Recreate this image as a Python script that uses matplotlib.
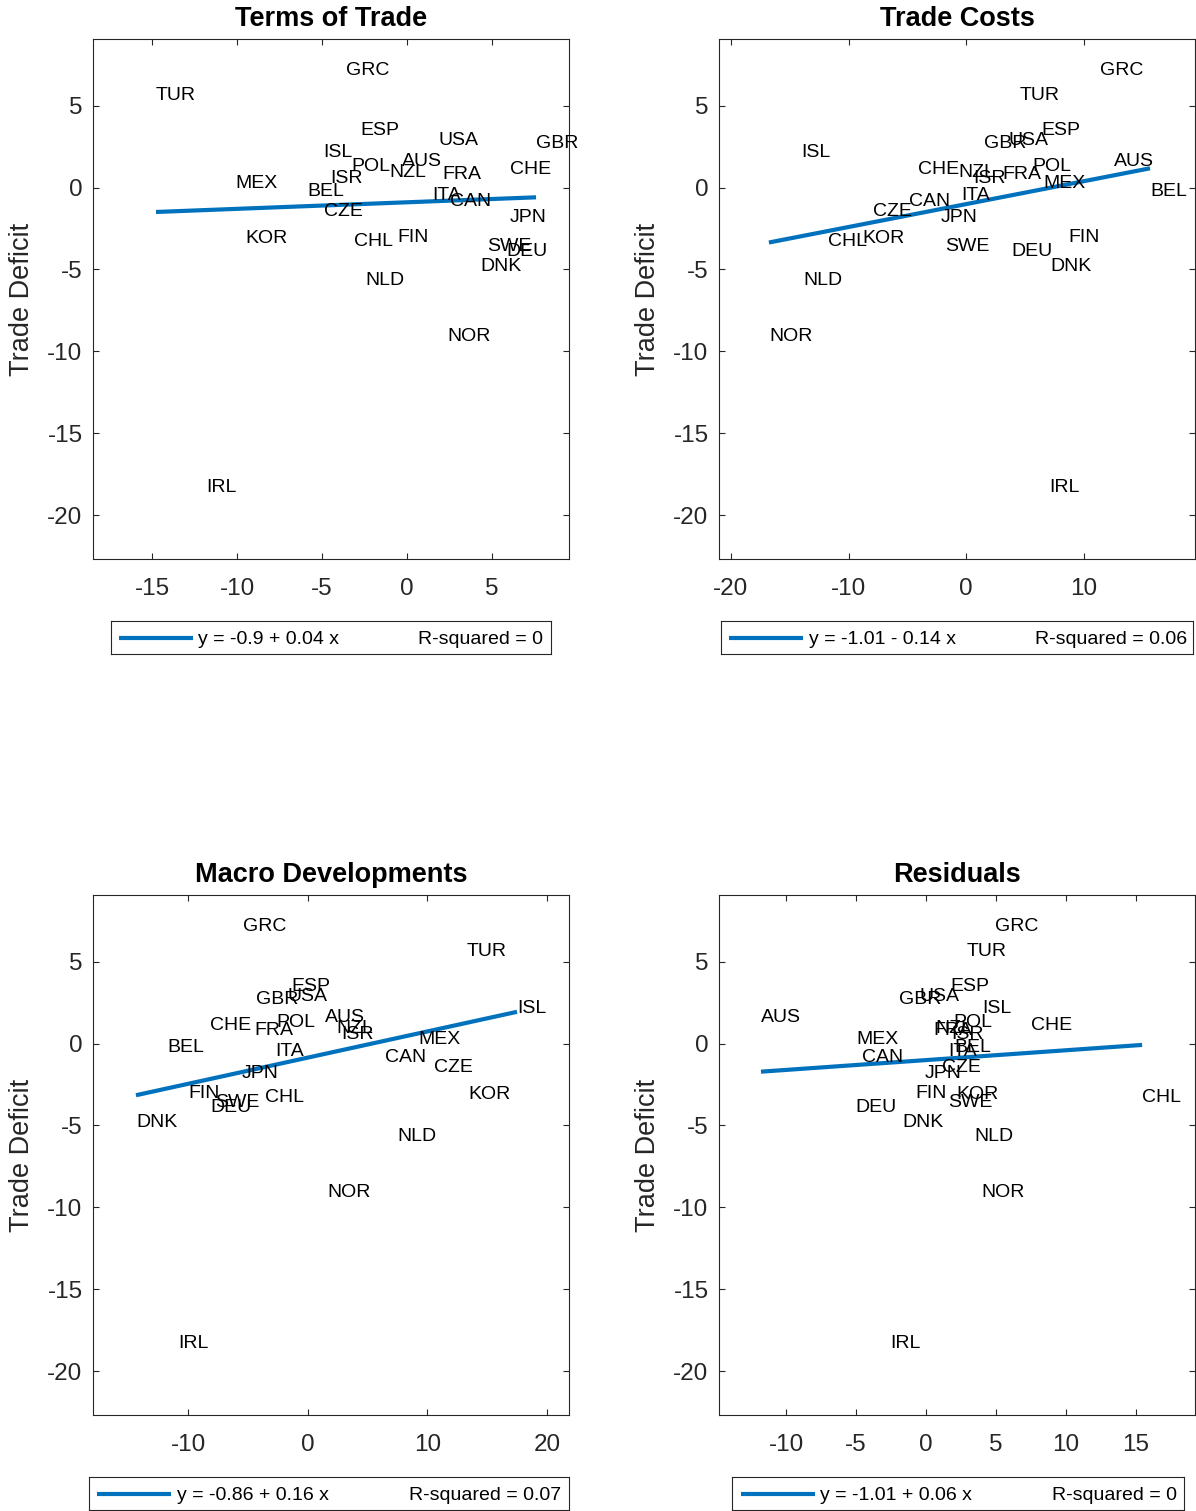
import matplotlib
matplotlib.use("Agg")
import matplotlib.pyplot as plt
import matplotlib.transforms as mtransforms
import numpy as np

plt.rcParams['font.family'] = ['Liberation Sans', 'DejaVu Sans']
plt.rcParams['axes.unicode_minus'] = False

# ---------------- data ----------------
countries = ["AUS", "BEL", "CAN", "CHE", "CHL", "CZE", "DEU", "DNK", "ESP", "FIN",
             "FRA", "GBR", "GRC", "IRL", "ISL", "ISR", "ITA", "JPN", "KOR", "MEX",
             "NLD", "NOR", "NZL", "POL", "SWE", "TUR", "USA"]

trade_deficit = [1.68, -0.15, -0.76, 1.19, -3.20, -1.37, -3.82, -4.73, 3.57, -2.96,
                 0.89, 2.78, 7.23, -18.20, 2.23, 0.64, -0.40, -1.74, -3.02, 0.34,
                 -5.59, -9.00, 1.01, 1.37, -3.51, 5.71, 2.96]

terms_of_trade = [-0.29, -5.89, 2.53, 6.07, -3.12, -4.89, 5.83, 4.30, -2.77, -0.59,
                  2.06, 7.60, -3.59, -11.84, -4.95, -4.53, 1.47, 6.07, -9.54, -10.13,
                  -2.47, 2.36, -1.06, -3.30, 4.71, -14.78, 1.83]

trade_costs = [12.55, 15.61, -4.87, -4.10, -11.75, -7.93, 3.80, 7.11, 6.35, 8.64,
               3.03, 1.50, 11.36, 7.03, -14.04, 0.57, -0.45, -2.15, -8.78, 6.52,
               -13.87, -16.76, -0.71, 5.58, -1.81, 4.56, 3.63]

macro_dev = [1.44, -11.75, 6.46, -8.16, -3.57, 10.55, -8.16, -14.35, -1.40, -10.00,
             -4.49, -4.32, -5.41, -10.83, 17.49, 2.78, -2.73, -5.49, 13.40, 9.21,
             7.46, 1.61, 2.36, -2.65, -7.74, 13.24, -1.65]

residuals = [-11.79, 2.00, -4.57, 7.50, 15.43, 1.14, -5.07, -1.71, 1.71, -0.79,
             0.50, -1.93, 4.93, -2.57, 4.00, 1.79, 1.57, -0.07, 2.14, -5.00,
             3.43, 3.93, 0.64, 1.93, 1.57, 2.93, -0.50]

titles = ["Terms of Trade", "Trade Costs", "Macro Developments", "Residuals"]
intercepts = [-0.90, -1.01, -0.86, -1.01]
slopes = [0.04, 0.14, 0.16, 0.06]
fit_labels = ["y = -0.9 + 0.04 x", "y = -1.01 - 0.14 x",
              "y = -0.86 + 0.16 x", "y = -1.01 + 0.06 x"]
r2_labels = ["R-squared = 0", "R-squared = 0.06",
             "R-squared = 0.07", "R-squared = 0"]
x_ticks = [[-15, -10, -5, 0, 5], [-20, -10, 0, 10],
           [-10, 0, 10, 20], [-10, -5, 0, 5, 10, 15]]
y_ticks = [-20, -15, -10, -5, 0, 5]
x_limits = [(-18.49, 9.54), (-21.0, 19.43), (-17.94, 21.83), (-14.79, 19.21)]
y_limits = (-22.68, 9.07)

xs_all = [terms_of_trade, trade_costs, macro_dev, residuals]

# ---------------- layout (pixels) ----------------
W, H = 1196, 1511
fig = plt.figure(figsize=(W / 100, H / 100), dpi=100)


def rect(x0, y0, x1, y1):
    return [x0 / W, 1 - y1 / H, (x1 - x0) / W, (y1 - y0) / H]


axes_px = [(93, 39, 569, 559), (719, 39, 1195, 559),
           (93, 895, 569, 1415), (719, 895, 1195, 1415)]
legend_px = [(111, 621, 551, 654), (721, 621, 1193, 654),
             (89, 1477, 569, 1510), (732, 1477, 1184, 1510)]
legend_line_px = [(119, 193, 198, 543), (729, 803, 809, 1187),
                  (97, 171, 177, 561), (741, 815, 820, 1177)]

AX_COL = (0.15, 0.15, 0.15)
BLUE = "#0072BD"

for i in range(4):
    ax = fig.add_axes(rect(*axes_px[i]))
    xs = np.array(xs_all[i])
    ys = np.array(trade_deficit)
    txt_tr = mtransforms.offset_copy(ax.transData, fig=fig, x=0, y=-1.6,
                                     units="dots")
    for name, xv, yv in zip(countries, xs, ys):
        ax.text(xv, yv, name, ha="left", va="center", fontsize=14,
                color="black", transform=txt_tr)
    xl = np.array([xs.min(), xs.max()])
    ax.plot(xl, intercepts[i] + slopes[i] * xl, color=BLUE, lw=3,
            solid_capstyle="butt")
    ax.set_xlim(*x_limits[i])
    ax.set_ylim(*y_limits)
    ax.set_xticks(x_ticks[i])
    ax.set_yticks(y_ticks)
    ax.tick_params(direction="in", length=4, width=0.8, colors=AX_COL,
                   labelsize=17.5, top=True, right=True)
    ax.tick_params(axis="x", pad=13.5)
    ax.tick_params(axis="y", pad=7.5)
    for s in ax.spines.values():
        s.set_color(AX_COL)
        s.set_linewidth(0.8)
    ax.set_title(titles[i], fontsize=19.5, fontweight="bold", pad=9.5,
                 color="black")
    ax.set_ylabel("Trade Deficit", fontsize=19.5, color=AX_COL, va="center")
    ax.yaxis.set_label_coords(-0.149, 0.5)

    # legend box
    lx0, ly0, lx1, ly1 = legend_px[i]
    lg = fig.add_axes(rect(lx0, ly0, lx1, ly1))
    lg.set_xlim(lx0, lx1)
    lg.set_ylim(ly1, ly0)
    lg.set_xticks([])
    lg.set_yticks([])
    for s in lg.spines.values():
        s.set_color(AX_COL)
        s.set_linewidth(0.8)
    a, b, t0, t1 = legend_line_px[i]
    yc = (ly0 + ly1) / 2
    lg.plot([a, b], [yc, yc], color=BLUE, lw=3, solid_capstyle="butt")
    lg.text(t0, yc + 1.6, fit_labels[i], ha="left", va="center", fontsize=14,
            color="black")
    lg.text(t1, yc + 1.6, r2_labels[i], ha="right", va="center", fontsize=14,
            color="black")

fig.savefig("out.png", dpi=100)
